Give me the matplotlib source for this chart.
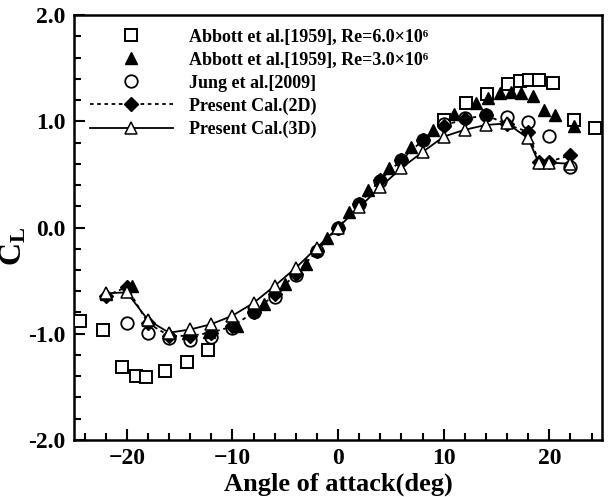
import matplotlib
matplotlib.use("Agg")
import matplotlib.pyplot as plt
from matplotlib.ticker import MultipleLocator, FormatStrFormatter

plt.rcParams['font.family'] = ['Liberation Serif', 'DejaVu Serif']
plt.rcParams['font.weight'] = 'bold'
plt.rcParams['mathtext.fontset'] = 'custom'
plt.rcParams['mathtext.rm'] = 'Liberation Serif:bold'
plt.rcParams['mathtext.bf'] = 'Liberation Serif:bold'
plt.rcParams['mathtext.it'] = 'Liberation Serif:bold'

# Abbott et al. [1959], Re = 6.0e6 (open squares)
abbott6_aoa = [-24.4, -22.3, -20.5, -19.1, -18.2, -16.4, -14.3, -12.3,
               10.0, 12.1, 14.1, 16.1, 17.2, 18.1, 19.0, 20.4, 22.3, 24.3]
abbott6_cl = [-0.88, -0.965, -1.31, -1.40, -1.41, -1.35, -1.27, -1.15,
              1.01, 1.17, 1.26, 1.35, 1.38, 1.39, 1.39, 1.36, 1.01, 0.94]

# Abbott et al. [1959], Re = 3.0e6 (filled triangles)
abbott3_aoa = [-22.0, -19.5, -18.0, -16.0, -14.2, -12.2, -9.6, -7.0, -5.0, -3.0,
               -1.0, 1.0, 2.8, 4.8, 6.9, 9.0, 11.0, 13.1, 14.2, 15.3, 16.4,
               17.3, 18.5, 19.5, 20.5, 22.3]
abbott3_cl = [-0.63, -0.55, -0.87, -0.99, -0.99, -0.98, -0.93, -0.72, -0.53, -0.34,
              -0.10, 0.15, 0.35, 0.56, 0.76, 0.92, 1.07, 1.17, 1.22, 1.27, 1.28,
              1.27, 1.24, 1.11, 1.06, 0.96]

# Jung et al. [2009] (open circles)
jung_aoa = [-20, -18, -16, -14, -12, -10, -8, -6, -4, -2, 0, 2, 4, 6, 8, 10,
            12, 14, 16, 18, 20, 22]
jung_cl = [-0.90, -0.99, -1.04, -1.06, -1.03, -0.95, -0.80, -0.65, -0.45, -0.22,
           0.0, 0.22, 0.44, 0.64, 0.82, 0.97, 1.03, 1.06, 1.04, 0.99, 0.86, 0.57]

# Present Cal. (2D) (dotted line, filled diamonds)
cal2d_aoa = [-22, -20, -18, -16, -14, -12, -10, -8, -6, -4, -2, 0, 2, 4, 6, 8,
             10, 12, 14, 16, 18, 19, 20, 22]
cal2d_cl = [-0.645, -0.56, -0.90, -1.02, -1.02, -0.99, -0.93, -0.80, -0.63, -0.44,
            -0.22, 0.0, 0.22, 0.45, 0.635, 0.82, 0.96, 1.02, 1.06, 0.97, 0.90,
            0.62, 0.62, 0.68]

# Present Cal. (3D) (solid line, open triangles)
cal3d_aoa = [-22, -20, -18, -16, -14, -12, -10, -8, -6, -4, -2, 0, 2, 4, 6, 8,
             10, 12, 14, 16, 18, 19, 20, 22]
cal3d_cl = [-0.62, -0.61, -0.87, -0.99, -0.96, -0.91, -0.83, -0.71, -0.55, -0.38,
            -0.19, 0.0, 0.19, 0.38, 0.56, 0.71, 0.855, 0.92, 0.965, 0.98, 0.84,
            0.61, 0.61, 0.60]

labels = ['Abbott et al.[1959], Re=6.0\u00d710\u2076',
          'Abbott et al.[1959], Re=3.0\u00d710\u2076',
          'Jung et al.[2009]',
          'Present Cal.(2D)',
          'Present Cal.(3D)']

fig = plt.figure(figsize=(6.10, 4.97), dpi=100)
ax = fig.add_axes([0.1213, 0.1147, 0.8657, 0.8551])

ax.plot(abbott6_aoa, abbott6_cl, ls='none', marker='s', ms=8.5, mfc='white',
        mec='black', mew=1.4, label=labels[0], zorder=3)
ax.plot(abbott3_aoa, abbott3_cl, ls='none', marker='^', ms=8, mfc='black',
        mec='black', label=labels[1], zorder=4)
ax.plot(jung_aoa, jung_cl, ls='none', marker='o', ms=9, mfc='white',
        mec='black', mew=1.3, label=labels[2], zorder=3)
ax.plot(cal2d_aoa, cal2d_cl, ls=(0, (2, 2)), lw=1.3, color='black', marker='D',
        ms=7.5, mfc='black', mec='black', label=labels[3], zorder=5)
ax.plot(cal3d_aoa, cal3d_cl, ls='-', lw=1.3, color='black', marker='^', ms=8,
        mfc='white', mec='black', mew=1.1, label=labels[4], zorder=6)

ax.set_xlim(-25, 25)
ax.set_ylim(-2.0, 2.0)
ax.xaxis.set_major_locator(MultipleLocator(10))
ax.xaxis.set_minor_locator(MultipleLocator(2))
ax.yaxis.set_major_locator(MultipleLocator(1.0))
ax.yaxis.set_minor_locator(MultipleLocator(0.2))
ax.yaxis.set_major_formatter(FormatStrFormatter('%.1f'))
ax.tick_params(which='both', direction='in', top=False, right=False,
               width=1.5, labelsize=17, pad=6)
ax.tick_params(which='major', length=8)
ax.tick_params(which='minor', length=5)
for sp in ax.spines.values():
    sp.set_linewidth(1.8)

ax.set_xlabel('Angle of attack(deg)', fontsize=19, fontweight='bold', labelpad=2)
ax.set_ylabel(r'$\mathrm{C}_{\mathrm{L}}$', fontsize=23)
ax.yaxis.set_label_coords(-0.086, 0.455)

leg = ax.legend(loc='upper left', bbox_to_anchor=(0.03, 0.968), frameon=False,
                handlelength=4.6, handletextpad=0.9,
                labelspacing=0.33, borderpad=0, borderaxespad=0,
                prop={'weight': 'bold', 'size': 13})

fig.savefig('out.png', dpi=100)
